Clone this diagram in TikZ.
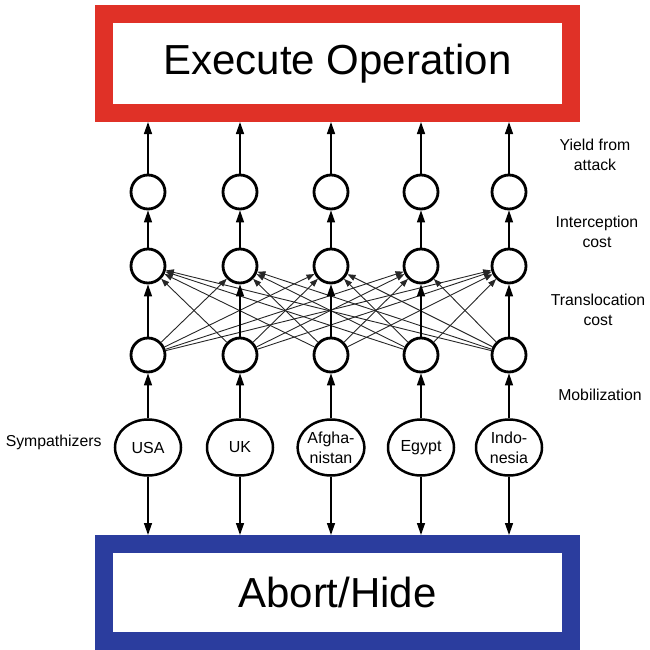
\documentclass[tikz,border=0pt]{standalone}
\usepackage{fontspec}
\setmainfont{Liberation Sans}
\usetikzlibrary{arrows.meta,shapes.geometric}
\definecolor{opred}{RGB}{224,49,39}
\definecolor{hideblue}{RGB}{43,61,158}
\begin{document}
\begin{tikzpicture}[x=1pt,y=-1pt,
  bigbox/.style={draw, line width=18pt, minimum width=467pt, inner sep=0pt,
    font=\fontsize{42}{48}\selectfont},
  unit/.style={circle, draw, line width=2.8pt, minimum size=34pt, inner sep=0pt},
  country/.style={ellipse, draw, line width=2.5pt, minimum width=66pt,
    minimum height=56pt, inner sep=0pt, align=center,
    font=\fontsize{16}{20}\selectfont},
  lab/.style={align=center, font=\fontsize{15.8}{20}\selectfont},
  flow/.style={line width=1.4pt, -{Triangle[length=12pt,width=8pt]}},
  cross/.style={line width=0.9pt, draw=black!85, -{Triangle[length=8pt,width=6pt]}},
]
\useasboundingbox (0,0) rectangle (649,650);

% outcome boxes
\node[bigbox, draw=opred, minimum height=99pt] (exec) at (337.5,63.5) {Execute Operation};
\node[bigbox, draw=hideblue, minimum height=97pt] (hide) at (337.5,592.5) {Abort/Hide};

% network units: yield, interception, mobilization
\foreach \i/\x in {1/148,2/240,3/331,4/421,5/509} {
  \node[unit] (y\i) at (\x,192) {};
  \node[unit] (c\i) at (\x,266) {};
  \node[unit] (m\i) at (\x,355) {};
}

% sympathizer populations
\node[country] (s1) at (148,447.5) {USA};
\node[country] (s2) at (240,447.5) {UK};
\node[country] (s3) at (331,447.5) {Afgha-\\nistan};
\node[country] (s4) at (421,447.5) {Egypt};
\node[country] (s5) at (509,447.5) {Indo-\\nesia};

% translocation links between every pair of countries
\foreach \i in {1,...,5} {
  \foreach \j in {1,...,5} {
    \ifnum\i=\j\else \draw[cross] (m\i) -- (c\j); \fi
  }
}

% vertical flows
\foreach \i in {1,...,5} {
  \draw[flow] (y\i) -- (y\i |- exec.south);
  \draw[flow] (c\i) -- (y\i);
  \draw[flow] (m\i) -- (c\i);
  \draw[flow] (s\i) -- (m\i);
  \draw[flow] (s\i) -- (s\i |- hide.north);
}

% layer labels
\node[lab] (l1) at (595,155) {Yield from\\attack};
\node[lab] (l2) at (597,232) {Interception\\cost};
\node[lab] (l3) at (598,310) {Translocation\\cost};
\node[lab] (l4) at (600,395) {Mobilization};
\node[lab, anchor=east] (l5) at (105,442) {Sympathizers};
\end{tikzpicture}
\end{document}
